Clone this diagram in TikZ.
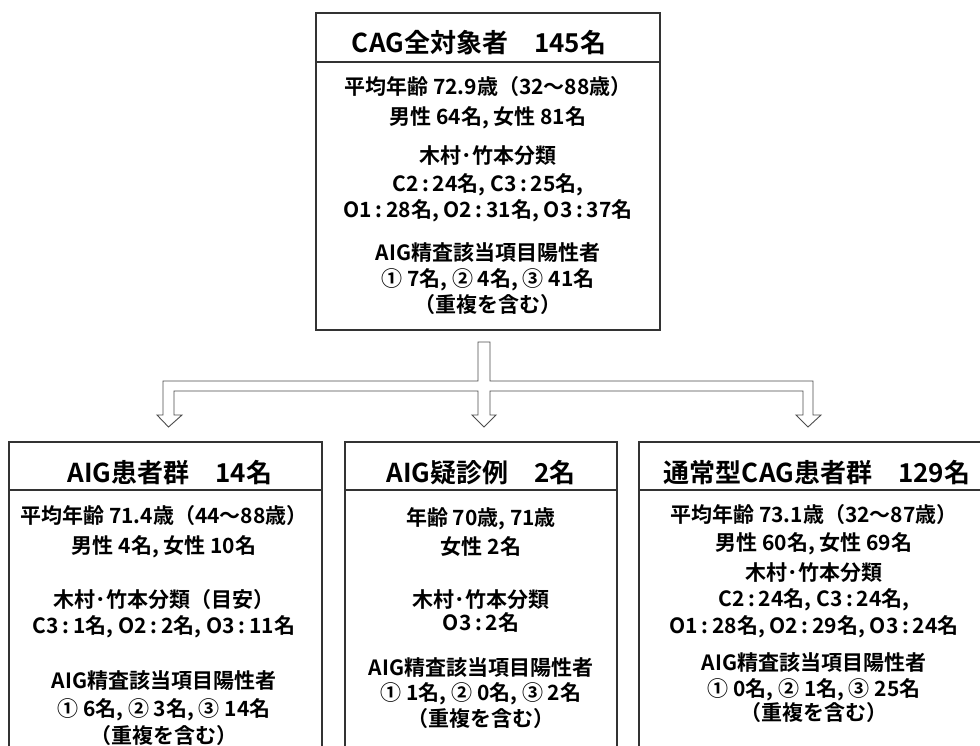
\documentclass[tikz,border=0pt]{standalone}
\usepackage{fontspec}
\setmainfont{Noto Sans CJK JP}[BoldFont={Noto Sans CJK JP Bold}]
\newcommand{\cln}{\hspace{0.18em}:\hspace{0.18em}}
\begin{document}
\begin{tikzpicture}[x=1pt,y=-1pt,
  box/.style={draw=black!80, line width=1.2pt, inner sep=0pt},
  divider/.style={draw=black!80, line width=1.2pt},
  ttl/.style={anchor=base, font=\bfseries\fontsize{26}{30}\selectfont, inner sep=0pt},
  txt/.style={anchor=base, font=\bfseries\fontsize{21}{25}\selectfont, inner sep=0pt},
  blk/.style={draw=black!70, line width=0.9pt, fill=white, line join=miter}]
\useasboundingbox (0,0) rectangle (980,745);
\clip (0,0) rectangle (980,745);

% boxes
\node[box, minimum width=344pt, minimum height=317pt] (top) at (488,171.5) {};
\node[box, minimum width=313pt, minimum height=328pt] (left) at (165.5,606) {};
\node[box, minimum width=272pt, minimum height=328pt] (mid) at (481,606) {};
\node[box, minimum width=356pt, minimum height=328pt] (right) at (817,606) {};
\draw[divider] (top.west |- 0,62) -- (top.east |- 0,62);
\draw[divider] (left.west |- 0,490) -- (left.east |- 0,490);
\draw[divider] (mid.west |- 0,490) -- (mid.east |- 0,490);
\draw[divider] (right.west |- 0,490) -- (right.east |- 0,490);

% block arrow
\coordinate (hub) at (484,381);
\draw[blk] (478,342) -- (490,342) -- (490,381) -- (813,381) -- (813,415) -- (821,415) -- (808,427)
  -- (796,415) -- (803,415) -- (803,391) -- (490,391) -- (490,415) -- (496,415) -- (484,427)
  -- (472,415) -- (478,415) -- (478,391) -- (174,391) -- (174,415) -- (182,415) -- (168.5,427)
  -- (157,415) -- (163,415) -- (163,381) -- (478,381) -- cycle;

% top box text
\node[ttl] (a0) at (479,52) {CAG全対象者　145名};
\node[txt] (a1) at (488,94) {平均年齢 72.9歳（32〜88歳）};
\node[txt] (a2) at (488,124) {男性 64名, 女性 81名};
\node[txt] (a3) at (488,163) {木村･竹本分類};
\node[txt] (a4) at (488,191) {C2\cln 24名, C3\cln 25名,};
\node[txt] (a5) at (488,217) {O1\cln 28名, O2\cln 31名, O3\cln 37名};
\node[txt] (a6) at (488,260) {AIG精査該当項目陽性者};
\node[txt] (a7) at (488,286) {① 7名, ② 4名, ③ 41名};
\node[txt] (a8) at (488,312) {（重複を含む）};

% left box text
\node[ttl] (b0) at (170,482) {AIG患者群　14名};
\node[txt] (b1) at (164,523) {平均年齢 71.4歳（44〜88歳）};
\node[txt] (b2) at (164,553) {男性 4名, 女性 10名};
\node[txt] (b3) at (164,607) {木村･竹本分類（目安）};
\node[txt] (b4) at (164,633) {C3\cln 1名, O2\cln 2名, O3\cln 11名};
\node[txt] (b5) at (164,688) {AIG精査該当項目陽性者};
\node[txt] (b6) at (164,716) {① 6名, ② 3名, ③ 14名};
\node[txt] (b7) at (164,743) {（重複を含む）};

% middle box text
\node[ttl] (c0) at (481,482) {AIG疑診例　2名};
\node[txt] (c1) at (481,525) {年齢 70歳, 71歳};
\node[txt] (c2) at (481,554) {女性 2名};
\node[txt] (c3) at (481,607) {木村･竹本分類};
\node[txt] (c4) at (481,630) {O3\cln 2名};
\node[txt] (c5) at (481,675) {AIG精査該当項目陽性者};
\node[txt] (c6) at (481,700) {① 1名, ② 0名, ③ 2名};
\node[txt] (c7) at (481,726) {（重複を含む）};

% right box text
\node[ttl] (d0) at (817,482) {通常型CAG患者群　129名};
\node[txt] (d1) at (814,522) {平均年齢 73.1歳（32〜87歳）};
\node[txt] (d2) at (814,550) {男性 60名, 女性 69名};
\node[txt] (d3) at (814,580) {木村･竹本分類};
\node[txt] (d4) at (814,606) {C2\cln 24名, C3\cln 24名,};
\node[txt] (d5) at (814,633) {O1\cln 28名, O2\cln 29名, O3\cln 24名};
\node[txt] (d6) at (814,670) {AIG精査該当項目陽性者};
\node[txt] (d7) at (814,696) {① 0名, ② 1名, ③ 25名};
\node[txt] (d8) at (814,720) {（重複を含む）};
\end{tikzpicture}
\end{document}
